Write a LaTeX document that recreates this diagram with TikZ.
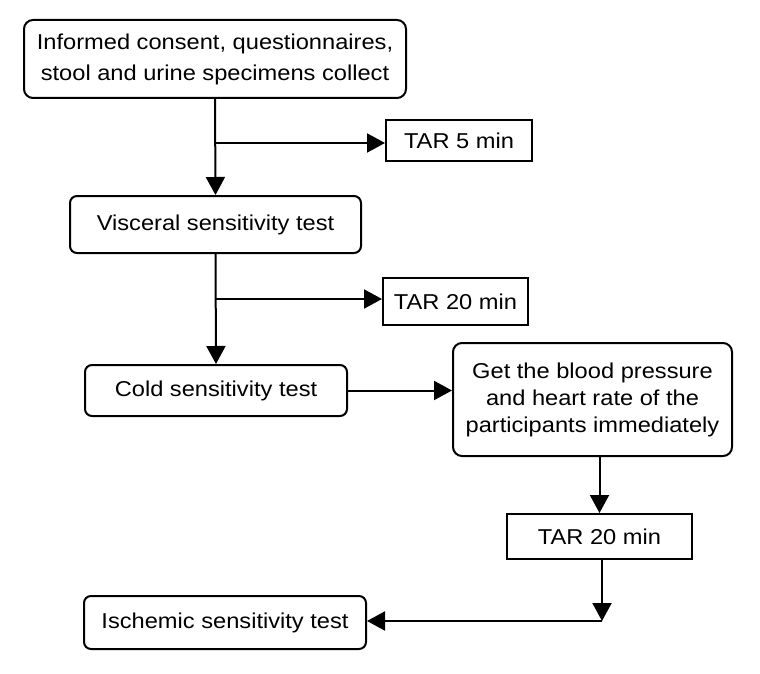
\documentclass[tikz,border=0pt]{standalone}
\usepackage{fontspec}
\setmainfont{Liberation Sans}[FakeStretch=1.1]
\usetikzlibrary{arrows.meta}

\tikzset{
  stepbox/.style={draw, line width=2pt, rounded corners=9pt, align=center,
    inner sep=0pt, font=\fontsize{21.5}{31}\selectfont},
  tarbox/.style={draw, line width=2pt, align=center, inner sep=0pt,
    font=\fontsize{21.5}{27}\selectfont},
  arr/.style={line width=2pt, -{Triangle[length=18pt,width=19pt]}}
}

\begin{document}
\begin{tikzpicture}[x=1pt,y=-1pt]
    \useasboundingbox (0,0) rectangle (760,674);

    \node[stepbox, minimum width=382pt, minimum height=78pt] (Consent) at (215,59)
        {Informed consent, questionnaires,\\stool and urine specimens collect};
    \node[stepbox, rounded corners=7pt, minimum width=291pt, minimum height=57pt] (Visceral) at (215.5,224.5)
        {Visceral sensitivity test};
    \node[tarbox, minimum width=146pt, minimum height=41pt] (TarFive) at (459,140.5) {TAR 5 min};
    \node[tarbox, minimum width=145pt, minimum height=47pt] (TarTwenty) at (455.5,301.5) {TAR 20 min};
    \node[stepbox, rounded corners=7pt, minimum width=262pt, minimum height=51pt] (Cold) at (216,390.5)
        {Cold sensitivity test};
    \node[stepbox, font=\fontsize{21.5}{27}\selectfont, minimum width=279pt, minimum height=113pt] (Vitals) at (592.5,399.5)
        {Get the blood pressure\\and heart rate of the\\participants immediately};
    \node[tarbox, minimum width=185pt, minimum height=45pt] (TarRest) at (599.5,536.5) {TAR 20 min};
    \node[stepbox, rounded corners=7pt, minimum width=282pt, minimum height=53pt] (Ischemic) at (225,622.5)
        {Ischemic sensitivity test};

    \coordinate (BranchOne) at (216,143);
    \coordinate (BranchTwo) at (216,299);
    \coordinate (Corner) at (602,621);

    \draw [arr] (Consent.south) -- (Visceral.north);
    \draw [arr] (BranchOne) -- (TarFive.west |- BranchOne);
    \draw [arr] (Visceral.south) -- (Cold.north);
    \draw [arr] (BranchTwo) -- (TarTwenty.west |- BranchTwo);
    \draw [arr] (Cold.east) -- (Cold.east -| Vitals.west);
    \draw [arr] (TarRest.north |- Vitals.south) -- (TarRest.north);
    \draw [arr] (TarRest.south -| Corner) -- (Corner);
    \draw [arr] (Corner) -- (Ischemic.east |- Corner);
\end{tikzpicture}
\end{document}
